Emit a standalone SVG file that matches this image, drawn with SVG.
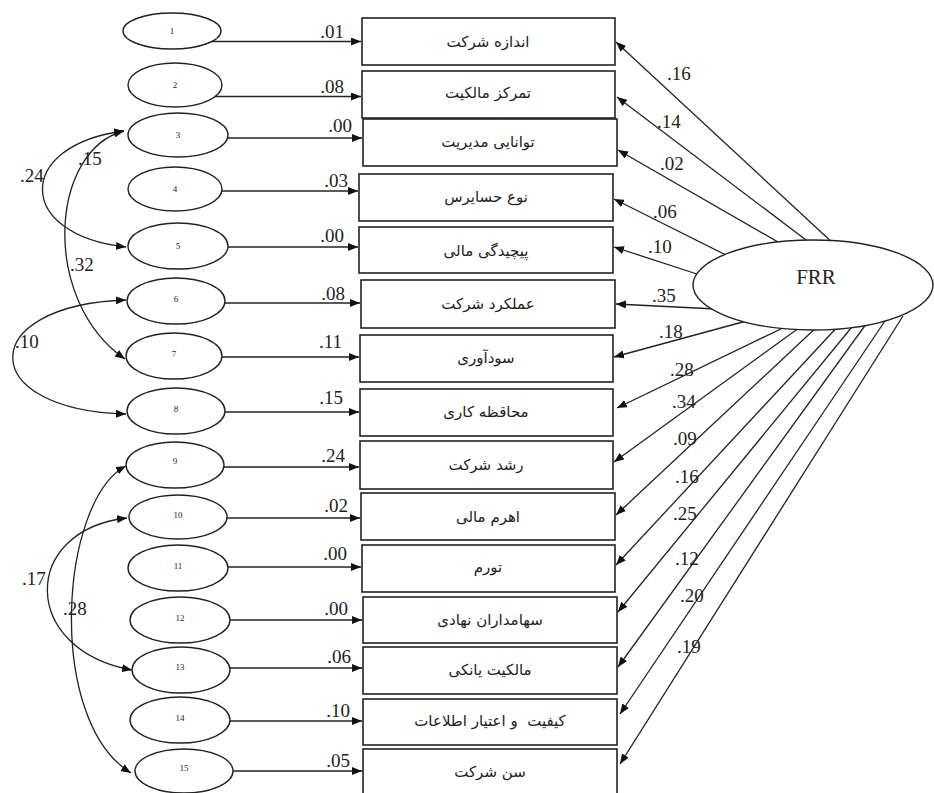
<svg xmlns="http://www.w3.org/2000/svg" width="934" height="793" viewBox="0 0 934 793">
<style>
.bg{fill:#ffffff}
.err{fill:#ffffff;stroke:#222;stroke-width:1.4}
.box{fill:#ffffff;stroke:#222;stroke-width:1.6}
.lat{fill:#ffffff;stroke:#222;stroke-width:1.4}
.con{fill:none;stroke:#222;stroke-width:1.3;marker-end:url(#ah)}
.cov{fill:none;stroke:#222;stroke-width:1.3;marker-start:url(#ah);marker-end:url(#ah)}
.num{font-family:"Liberation Serif","Times New Roman",serif;font-size:19px;fill:#222}
.idx{font-family:"Liberation Serif","Times New Roman",serif;font-size:9px;fill:#222;text-anchor:middle}
.fa{font-family:"DejaVu Sans","Noto Sans",sans-serif;font-size:15px;fill:#222;text-anchor:middle;white-space:pre}
.frr{font-family:"Liberation Serif","Times New Roman",serif;font-size:21px;fill:#222;text-anchor:middle}
</style>
<defs>
<marker id="ah" viewBox="0 0 10 8" refX="10" refY="4" markerWidth="10" markerHeight="8" markerUnits="userSpaceOnUse" orient="auto-start-reverse">
<path d="M0,0 L10,4 L0,8 z" fill="#111"/>
</marker>
</defs>
<rect class="bg" x="0" y="0" width="934" height="793"/>

<g id="connectors">
<g id="error-paths">
<line class="con" x1="172" y1="41.5" x2="361" y2="41.5"/>
<line class="con" x1="175" y1="96.5" x2="361" y2="96.5"/>
<line class="con" x1="178" y1="138" x2="362" y2="138"/>
<line class="con" x1="175" y1="191" x2="358" y2="191"/>
<line class="con" x1="178" y1="247" x2="358" y2="247"/>
<line class="con" x1="176" y1="303" x2="360" y2="303"/>
<line class="con" x1="174" y1="357" x2="359" y2="357"/>
<line class="con" x1="176" y1="412" x2="359" y2="412"/>
<line class="con" x1="175" y1="467" x2="359" y2="467"/>
<line class="con" x1="178" y1="518" x2="360" y2="518"/>
<line class="con" x1="178" y1="567" x2="361" y2="567"/>
<line class="con" x1="180" y1="620" x2="362" y2="620"/>
<line class="con" x1="181" y1="668" x2="362" y2="668"/>
<line class="con" x1="180" y1="721" x2="362" y2="721"/>
<line class="con" x1="184" y1="771" x2="362" y2="771"/>
</g>
<g id="loadings">
<line class="con" x1="835" y1="245" x2="616" y2="42"/>
<line class="con" x1="810" y1="243" x2="617" y2="97"/>
<line class="con" x1="785" y1="246" x2="618" y2="150"/>
<line class="con" x1="728" y1="256" x2="614" y2="199"/>
<line class="con" x1="700" y1="275" x2="614" y2="247"/>
<line class="con" x1="716" y1="309" x2="616" y2="304"/>
<line class="con" x1="750" y1="320" x2="614" y2="357"/>
<line class="con" x1="787" y1="326" x2="617" y2="408"/>
<line class="con" x1="803" y1="325" x2="614" y2="462"/>
<line class="con" x1="820" y1="324" x2="616" y2="515"/>
<line class="con" x1="841" y1="323" x2="616" y2="565"/>
<line class="con" x1="856" y1="322" x2="618" y2="612"/>
<line class="con" x1="869" y1="320" x2="618" y2="667"/>
<line class="con" x1="887" y1="318" x2="620" y2="714"/>
<line class="con" x1="903" y1="316" x2="620" y2="764"/>
</g>
<g id="covariances">
<path class="cov" d="M124,131 C15,145 15,235 126,247"/>
<path class="cov" d="M124,131 C50,150 40,300 125,359"/>
<path class="cov" d="M126,300 C-25,305 -25,410 126,414"/>
<path class="cov" d="M126,466 C60,500 45,720 131,773"/>
<path class="cov" d="M127,518 C20,530 20,650 132,670"/>
</g>
</g>

<g id="ellipses">
<g id="e1"><ellipse class="err" cx="172" cy="31" rx="49" ry="18"/><text class="idx" x="172" y="34">1</text></g>
<g id="e2"><ellipse class="err" cx="175" cy="85" rx="47" ry="22"/><text class="idx" x="175" y="88">2</text></g>
<g id="e3"><ellipse class="err" cx="178" cy="135" rx="50" ry="22"/><text class="idx" x="178" y="138">3</text></g>
<g id="e4"><ellipse class="err" cx="175" cy="189" rx="47" ry="22"/><text class="idx" x="175" y="192">4</text></g>
<g id="e5"><ellipse class="err" cx="178" cy="246" rx="50" ry="23"/><text class="idx" x="178" y="249">5</text></g>
<g id="e6"><ellipse class="err" cx="176" cy="301" rx="49" ry="23"/><text class="idx" x="176" y="302">6</text></g>
<g id="e7"><ellipse class="err" cx="174" cy="356" rx="48" ry="23"/><text class="idx" x="174" y="357">7</text></g>
<g id="e8"><ellipse class="err" cx="176" cy="411" rx="49" ry="23"/><text class="idx" x="176" y="412">8</text></g>
<g id="e9"><ellipse class="err" cx="175" cy="465" rx="49" ry="23"/><text class="idx" x="175" y="464">9</text></g>
<g id="e10"><ellipse class="err" cx="178" cy="517" rx="49" ry="22"/><text class="idx" x="178" y="518">10</text></g>
<g id="e11"><ellipse class="err" cx="178" cy="568" rx="50" ry="23"/><text class="idx" x="178" y="569">11</text></g>
<g id="e12"><ellipse class="err" cx="180" cy="620" rx="50" ry="23"/><text class="idx" x="180" y="621">12</text></g>
<g id="e13"><ellipse class="err" cx="181" cy="670" rx="49" ry="23"/><text class="idx" x="180" y="670">13</text></g>
<g id="e14"><ellipse class="err" cx="180" cy="720" rx="50" ry="23"/><text class="idx" x="180" y="721">14</text></g>
<g id="e15"><ellipse class="err" cx="184" cy="771" rx="49" ry="22"/><text class="idx" x="184" y="771">15</text></g>
</g>

<g id="boxes">
<g id="b1"><rect class="box" x="362" y="18" width="253" height="47"/><text class="fa" x="488" y="47">اندازه شرکت</text></g>
<g id="b2"><rect class="box" x="362" y="71" width="253" height="47"/><text class="fa" x="488" y="98">تمرکز مالکیت</text></g>
<g id="b3"><rect class="box" x="363" y="119" width="254" height="47"/><text class="fa" x="488" y="147">توانایی مدیریت</text></g>
<g id="b4"><rect class="box" x="359" y="174" width="254" height="47"/><text class="fa" x="486" y="202">نوع حسایرس</text></g>
<g id="b5"><rect class="box" x="359" y="227" width="254" height="46"/><text class="fa" x="486" y="256">پیچیدگی مالی</text></g>
<g id="b6"><rect class="box" x="361" y="280" width="254" height="48"/><text class="fa" x="488" y="309">عملکرد شرکت</text></g>
<g id="b7"><rect class="box" x="360" y="335" width="253" height="47"/><text class="fa" x="486" y="363">سودآوری</text></g>
<g id="b8"><rect class="box" x="360" y="389" width="253" height="47"/><text class="fa" x="486" y="417">محاقظه کاری</text></g>
<g id="b9"><rect class="box" x="360" y="441" width="253" height="48"/><text class="fa" x="486" y="470">رشد شرکت</text></g>
<g id="b10"><rect class="box" x="361" y="493" width="254" height="47"/><text class="fa" x="488" y="522">اهرم مالی</text></g>
<g id="b11"><rect class="box" x="362" y="545" width="253" height="47"/><text class="fa" x="488" y="572">تورم</text></g>
<g id="b12"><rect class="box" x="363" y="597" width="254" height="46"/><text class="fa" x="490" y="625">سهامداران نهادی</text></g>
<g id="b13"><rect class="box" x="363" y="647" width="254" height="47"/><text class="fa" x="490" y="675">مالکیت یانکی</text></g>
<g id="b14"><rect class="box" x="363" y="699" width="254" height="46"/><text class="fa" x="490" y="726" xml:space="preserve">کیفیت  و اعتیار اطلاعات</text></g>
<g id="b15"><rect class="box" x="363" y="749" width="254" height="50"/><text class="fa" x="490" y="777">سن شرکت</text></g>
</g>

<g id="FRR"><ellipse class="lat" cx="813" cy="285" rx="120" ry="45"/><text class="frr" x="816" y="284">FRR</text></g>

<g id="labels">
<g id="error-labels" text-anchor="end">
<text class="num" x="344" y="38">.01</text>
<text class="num" x="344" y="93">.08</text>
<text class="num" x="352" y="132">.00</text>
<text class="num" x="348" y="187">.03</text>
<text class="num" x="344" y="242">.00</text>
<text class="num" x="345" y="300">.08</text>
<text class="num" x="342" y="348">.11</text>
<text class="num" x="343" y="404">.15</text>
<text class="num" x="345" y="462">.24</text>
<text class="num" x="348" y="512">.02</text>
<text class="num" x="347" y="560">.00</text>
<text class="num" x="348" y="615">.00</text>
<text class="num" x="351" y="663">.06</text>
<text class="num" x="350" y="717">.10</text>
<text class="num" x="350" y="767">.05</text>
</g>
<g id="loading-labels">
<text class="num" x="667" y="80">.16</text>
<text class="num" x="657" y="128">.14</text>
<text class="num" x="660" y="170">.02</text>
<text class="num" x="653" y="218">.06</text>
<text class="num" x="648" y="253">.10</text>
<text class="num" x="652" y="302">.35</text>
<text class="num" x="659" y="338">.18</text>
<text class="num" x="670" y="376">.28</text>
<text class="num" x="672" y="408">.34</text>
<text class="num" x="673" y="445">.09</text>
<text class="num" x="675" y="483">.16</text>
<text class="num" x="673" y="520">.25</text>
<text class="num" x="675" y="565">.12</text>
<text class="num" x="680" y="602">.20</text>
<text class="num" x="677" y="653">.19</text>
</g>
<g id="cov-labels">
<text class="num" x="20" y="182">.24</text>
<text class="num" x="78" y="165">.15</text>
<text class="num" x="70" y="271">.32</text>
<text class="num" x="15" y="348">.10</text>
<text class="num" x="22" y="585">.17</text>
<text class="num" x="63" y="615">.28</text>
</g>
</g>
</svg>
